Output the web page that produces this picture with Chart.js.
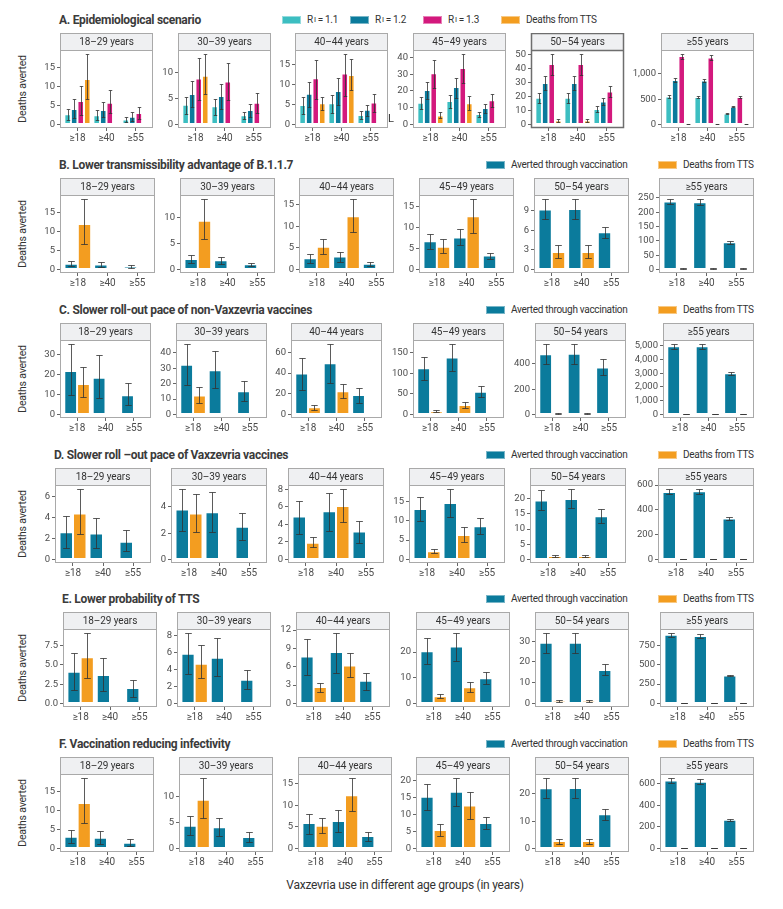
<!DOCTYPE html>
<html lang="en">
<head>
<meta charset="UTF-8">
<title>Deaths averted by Vaxzevria use, by scenario</title>
<script src="https://cdn.jsdelivr.net/npm/chart.js"></script>
<style>
  body { margin: 0; width: 783px; height: 909px; position: relative; overflow: hidden; background: #fff;
         font-family: "Roboto", sans-serif; color: #333; }
  .title { position: absolute; font-weight: bold; font-size: 12px; letter-spacing: -0.3px; color: #3b3b3b; white-space: nowrap; line-height: 16px; }
  .leg { position: absolute; display: flex; align-items: center; font-size: 10px; letter-spacing: -0.3px; color: #333; white-space: nowrap; line-height: 14px; }
  .leg i { display: inline-block; width: 19px; height: 8px; margin-right: 6px; box-shadow: inset 0 0 0 1px rgba(255,255,255,0.45); }
  .leg sub { font-size: 7.5px; vertical-align: -2px; margin: 0 2px 0 1px; }
  .ylab { position: absolute; font-size: 10.5px; letter-spacing: -0.2px; color: #333; white-space: nowrap; transform: translate(-50%, -50%) rotate(-90deg); }
  .xlab { position: absolute; font-size: 12px; letter-spacing: -0.25px; color: #333; white-space: nowrap; transform: translateX(-50%); }
  canvas { position: absolute; }
</style>
</head>
<body>
<script>
// categories
const useGroups = ['≥18', '≥40', '≥55'];
const ageGroups = ['18–29 years', '30–39 years', '40–44 years', '45–49 years', '50–54 years', '≥55 years'];

// each bar: [value, lower, upper]; one entry per age-group panel, three use groups each

// A. Epidemiological scenario
const aTicks = [[0, 5, 10, 15], [0, 5, 10], [0, 5, 10, 15], [0, 10, 20, 30, 40], [0, 10, 20, 30, 40, 50], [0, 500, 1000]];
const aR11 = [
  [[2.7, 1.2, 4.2], [2.4, 1.3, 3.7], [1.3, 0.7, 2.0]],
  [[3.8, 2.0, 5.3], [3.5, 1.8, 4.9], [1.8, 1.0, 2.5]],
  [[4.9, 2.5, 6.8], [5.3, 2.8, 7.3], [2.4, 1.4, 3.3]],
  [[13, 9, 16.3], [14, 9.8, 17.5], [6.2, 4.4, 7.7]],
  [[19, 15.5, 22.5], [19, 15.5, 22.5], [11, 9, 13]],
  [[550, 525, 575], [540, 515, 565], [215, 205, 225]]
];
const aR12 = [
  [[4.1, 1.8, 6.6], [3.8, 2.0, 6.0], [2.0, 1.0, 3.2]],
  [[5.9, 3.3, 8.4], [5.5, 3.0, 7.8], [2.8, 1.5, 4.0]],
  [[7.7, 4.3, 10.6], [8.4, 4.8, 11.7], [3.7, 2.1, 5.0]],
  [[20.5, 15, 25.5], [22.3, 16, 27.5], [9.8, 7, 12]],
  [[29.5, 24.5, 34.5], [29.5, 24.5, 34.5], [16.3, 13.5, 19]],
  [[880, 840, 920], [870, 840, 900], [350, 340, 360]]
];
const aR13 = [
  [[6.2, 2.5, 10.1], [5.7, 3.0, 9.0], [3.0, 1.5, 4.7]],
  [[8.9, 4.8, 12.9], [8.3, 4.8, 11.8], [4.2, 2.2, 6.0]],
  [[11.6, 6.5, 16.3], [12.8, 7.2, 17.8], [5.5, 3.1, 7.6]],
  [[30.5, 22, 38.5], [33.7, 25, 42.3], [14.5, 10.5, 18]],
  [[43, 35.5, 50.5], [43, 35.5, 50.5], [23.5, 19.5, 27.5]],
  [[1350, 1300, 1400], [1320, 1270, 1370], [540, 515, 565]]
];
const aTts = [
  [[12, 6.7, 18.7], null, null],
  [[9.4, 5.9, 13.7], null, null],
  [[5.3, 3.6, 7.0], [12.4, 8.6, 16.5], null],
  [[5.4, 3.7, 7.2], [12.7, 8.7, 16.8], null],
  [[2.8, 1.8, 3.7], [2.8, 1.8, 3.7], null],
  [[4.5, 3, 6], [4.5, 3, 6], [4.5, 3, 6]]
];

// B. Lower transmissibility advantage of B.1.1.7
const bTicks = [[0, 5, 10, 15], [0, 5, 10], [0, 5, 10, 15], [0, 5, 10, 15], [0, 3, 6, 9], [0, 50, 100, 150, 200, 250]];
const bVacc = [
  [[1.5, 0.8, 2.2], [1.3, 0.7, 2.0], [0.8, 0.4, 1.1]],
  [[2.0, 1.2, 2.8], [1.8, 1.1, 2.5], [1.0, 0.6, 1.3]],
  [[2.6, 1.6, 3.5], [3.0, 1.8, 4.0], [1.3, 0.8, 1.7]],
  [[6.7, 4.9, 8.3], [7.6, 5.8, 9.5], [3.3, 2.5, 4.0]],
  [[9.2, 7.7, 10.8], [9.3, 7.7, 10.9], [5.7, 4.9, 6.6]],
  [[238, 228, 248], [235, 225, 245], [95, 90, 100]]
];
const bTts = [
  [[12, 6.7, 18.7], null, null],
  [[9.4, 5.9, 13.7], null, null],
  [[5.3, 3.6, 7.0], [12.4, 8.6, 16.5], null],
  [[5.4, 3.8, 7.1], [12.6, 8.7, 16.8], null],
  [[2.7, 1.7, 3.7], [2.7, 1.7, 3.7], null],
  [[4.5, 3, 6], [4.5, 3, 6], [4.5, 3, 6]]
];

// C. Slower roll-out pace of non-Vaxzevria vaccines
const cTicks = [[0, 10, 20, 30], [0, 10, 20, 30, 40], [0, 20, 40, 60], [0, 50, 100, 150], [0, 200, 400], [0, 1000, 2000, 3000, 4000, 5000]];
const cVacc = [
  [[21.8, 9.5, 35.5], [18.4, 8, 30], [9.6, 4.5, 15.5]],
  [[32.3, 19.2, 46], [28.6, 17, 41.2], [15, 8.7, 21.5]],
  [[39.5, 23.5, 54.5], [49.5, 30, 68.5], [18.7, 11, 25.8]],
  [[112, 84, 140], [138, 105, 172], [55, 42, 69]],
  [[478, 400, 557], [482, 403, 562], [372, 310, 436]],
  [[4950, 4750, 5150], [4950, 4750, 5150], [3000, 2900, 3100]]
];
const cTts = [
  [[15.3, 8.7, 23.8], null, null],
  [[12.3, 7.5, 17.5], null, null],
  [[7, 4.7, 9.3], [22.3, 15.5, 29], null],
  [[8, 5, 11], [23, 16, 29], null],
  [[10, 7, 13], [10, 7, 13], null],
  [[30, 20, 40], [30, 20, 40], [30, 20, 40]]
];

// D. Slower roll-out pace of Vaxzevria vaccines
const dTicks = [[0, 2, 4, 6], [0, 2, 4], [0, 2, 4, 6, 8], [0, 5, 10, 15], [0, 5, 10, 15, 20], [0, 200, 400, 600]];
const dVacc = [
  [[2.6, 1.1, 4.2], [2.5, 1.1, 4.0], [1.7, 0.8, 2.8]],
  [[3.8, 2.2, 5.4], [3.6, 2.1, 5.1], [2.5, 1.5, 3.5]],
  [[4.9, 2.9, 6.7], [5.5, 3.3, 7.6], [3.2, 1.9, 4.4]],
  [[13, 9.8, 16.2], [14.6, 11, 18.3], [8.6, 6.6, 10.7]],
  [[19.4, 16.4, 22.7], [19.9, 16.8, 23.3], [14.2, 12, 16.5]],
  [[545, 525, 565], [550, 530, 572], [330, 318, 342]]
];
const dTts = [
  [[4.4, 2.4, 6.8], null, null],
  [[3.5, 2.1, 5.0], null, null],
  [[1.9, 1.4, 2.6], [6.1, 4.3, 8.1], null],
  [[2.1, 1.6, 2.7], [6.3, 4.4, 8.3], null],
  [[1.1, 0.8, 1.4], [1.1, 0.8, 1.4], null],
  [[5, 3, 7], [5, 3, 7], [5, 3, 7]]
];

// E. Lower probability of TTS
const eTicks = [[0, 2.5, 5, 7.5], [0, 2, 4, 6, 8], [0, 3, 6, 9, 12], [0, 10, 20], [0, 10, 20, 30], [0, 250, 500, 750]];
const eVacc = [
  [[4.1, 1.8, 6.6], [3.7, 1.6, 5.9], [2.0, 0.9, 3.1]],
  [[5.9, 3.5, 8.4], [5.4, 3.2, 7.8], [2.8, 1.7, 4.0]],
  [[7.7, 4.6, 10.6], [8.4, 5.0, 11.6], [3.7, 2.2, 5.0]],
  [[20.3, 15.3, 25.3], [22.2, 16.7, 27.6], [9.8, 7.5, 12.1]],
  [[29.3, 24.4, 34.2], [29.3, 24.4, 34.2], [16.1, 13.5, 18.8]],
  [[885, 855, 915], [870, 840, 900], [360, 348, 372]]
];
const eTts = [
  [[6.0, 3.3, 9.2], null, null],
  [[4.7, 3.0, 6.9], null, null],
  [[2.7, 1.9, 3.4], [6.2, 4.3, 8.3], null],
  [[2.8, 2.0, 3.5], [6.3, 4.4, 8.3], null],
  [[1.3, 0.9, 1.7], [1.3, 0.9, 1.7], null],
  [[5, 3, 7], [5, 3, 7], [5, 3, 7]]
];

// F. Vaccination reducing infectivity
const fTicks = [[0, 5, 10, 15], [0, 5, 10], [0, 5, 10, 15], [0, 5, 10, 15, 20], [0, 10, 20], [0, 200, 400, 600]];
const fVacc = [
  [[3.1, 1.4, 4.9], [2.8, 1.3, 4.5], [1.5, 0.7, 2.4]],
  [[4.4, 2.6, 6.3], [4.1, 2.4, 5.8], [2.2, 1.3, 3.1]],
  [[5.9, 3.4, 8.1], [6.4, 3.8, 8.9], [2.9, 1.7, 3.9]],
  [[15.2, 11.4, 19.0], [16.6, 12.6, 20.8], [7.5, 5.7, 9.3]],
  [[22.1, 18.5, 25.8], [22.2, 18.5, 26], [12.5, 10.5, 14.5]],
  [[632, 607, 660], [622, 597, 648], [268, 258, 278]]
];
const fTts = [
  [[12, 6.7, 18.7], null, null],
  [[9.4, 5.9, 13.7], null, null],
  [[5.3, 3.6, 7.0], [12.4, 8.6, 16.5], null],
  [[5.4, 3.8, 7.1], [12.6, 8.7, 16.7], null],
  [[2.7, 1.8, 3.6], [2.7, 1.8, 3.6], null],
  [[4.5, 3, 6], [4.5, 3, 6], [4.5, 3, 6]]
];

const FONT = '"Roboto", sans-serif';
const TEAL = '#3cbec1', BLUE = '#0b7b9c', MAGENTA = '#d3197d', ORANGE = '#f39d20';
const TICK_COL = '#4d4d4d', TICK_SIZE = 9.5;

const vaccLegend = [
  { html: 'Averted through vaccination', color: BLUE, x: 486 },
  { html: 'Deaths from TTS', color: ORANGE, x: 658 }
];
const rows = [
  { title: 'A. Epidemiological scenario', ticks: aTicks,
    series: [{ data: aR11, color: TEAL }, { data: aR12, color: BLUE }, { data: aR13, color: MAGENTA }, { data: aTts, color: ORANGE }],
    legend: [
      { html: 'R<sub>I</sub> = 1.1', color: TEAL, x: 282 },
      { html: 'R<sub>I</sub> = 1.2', color: BLUE, x: 350 },
      { html: 'R<sub>I</sub> = 1.3', color: MAGENTA, x: 423 },
      { html: 'Deaths from TTS', color: ORANGE, x: 501 }
    ] },
  { title: 'B. Lower transmissibility advantage of B.1.1.7', ticks: bTicks,
    series: [{ data: bVacc, color: BLUE }, { data: bTts, color: ORANGE }], legend: vaccLegend },
  { title: 'C. Slower roll-out pace of non-Vaxzevria vaccines', ticks: cTicks,
    series: [{ data: cVacc, color: BLUE }, { data: cTts, color: ORANGE }], legend: vaccLegend },
  { title: 'D. Slower roll –out pace of Vaxzevria vaccines', ticks: dTicks,
    series: [{ data: dVacc, color: BLUE }, { data: dTts, color: ORANGE }], legend: vaccLegend },
  { title: 'E. Lower probability of TTS', ticks: eTicks,
    series: [{ data: eVacc, color: BLUE }, { data: eTts, color: ORANGE }], legend: vaccLegend },
  { title: 'F. Vaccination reducing infectivity', ticks: fTicks,
    series: [{ data: fVacc, color: BLUE }, { data: fTts, color: ORANGE }], legend: vaccLegend }
];

// layout
const STRIP_H = 17, PLOT_H = 78, XAX_H = 16, GAP = 8, X0 = 43, X1 = 754;
const stripTops = [33, 178, 323, 468, 612, 757];

Chart.defaults.font.family = FONT;

function fmtTick(v, ticks) {
  const dec = ticks.some(t => !Number.isInteger(t));
  return dec ? v.toFixed(1) : v.toLocaleString('en-US');
}

const measureCtx = document.createElement('canvas').getContext('2d');
measureCtx.font = TICK_SIZE + 'px ' + FONT;

// error bars drawn from the y scale
const errorBars = {
  id: 'errorBars',
  afterDatasetsDraw(chart) {
    const ctx = chart.ctx, ys = chart.scales.y;
    ctx.save();
    ctx.strokeStyle = 'rgba(50,50,50,0.8)';
    ctx.lineWidth = 1;
    chart.data.datasets.forEach((ds, i) => {
      chart.getDatasetMeta(i).data.forEach((bar, j) => {
        if (ds.lo[j] == null) return;
        const x = Math.round(bar.x) + 0.5;
        const y1 = Math.round(ys.getPixelForValue(ds.lo[j])) + 0.5;
        const y2 = Math.round(ys.getPixelForValue(ds.hi[j])) + 0.5;
        const cw = Math.max(3.5, Math.min(7, bar.width * 0.5)) / 2;
        ctx.beginPath();
        ctx.moveTo(x, y1); ctx.lineTo(x, y2);
        ctx.moveTo(x - cw, y1); ctx.lineTo(x + cw, y1);
        ctx.moveTo(x - cw, y2); ctx.lineTo(x + cw, y2);
        ctx.stroke();
      });
    });
    ctx.restore();
  }
};

// facet strip and panel border
const panelFrame = {
  id: 'panelFrame',
  beforeDatasetsDraw(chart, args, opts) {
    const { ctx, chartArea: a } = chart;
    ctx.save();
    ctx.fillStyle = '#eff0f2';
    ctx.fillRect(a.left, a.top - STRIP_H, a.right - a.left, STRIP_H);
    ctx.fillStyle = '#333';
    ctx.font = '10px ' + FONT;
    ctx.letterSpacing = '-0.1px';
    ctx.textAlign = 'center';
    ctx.textBaseline = 'middle';
    ctx.fillText(opts.label, (a.left + a.right) / 2, a.top - STRIP_H / 2 + 0.5);
    ctx.restore();
  },
  afterDraw(chart, args, opts) {
    const { ctx, chartArea: a } = chart;
    ctx.save();
    ctx.strokeStyle = opts.strong ? '#6e6e6e' : '#a9a9a9';
    ctx.lineWidth = opts.strong ? 1.5 : 1;
    ctx.strokeRect(a.left + 0.5, a.top - STRIP_H + 0.5, a.right - a.left - 1, a.bottom - a.top + STRIP_H - 1);
    ctx.beginPath();
    ctx.moveTo(a.left, a.top + 0.5);
    ctx.lineTo(a.right, a.top + 0.5);
    ctx.stroke();
    ctx.restore();
  }
};

function addDiv(cls, html, style) {
  const d = document.createElement('div');
  d.className = cls;
  d.innerHTML = html;
  Object.assign(d.style, style);
  document.body.appendChild(d);
  return d;
}

rows.forEach((row, r) => {
  const top = stripTops[r];
  // axis widths from tick label widths, then equal panel widths
  const axisW = row.ticks.map(tk => Math.ceil(Math.max(...tk.map(v => measureCtx.measureText(fmtTick(v, tk)).width))) + 6);
  const panelW = (X1 - X0 - axisW.reduce((s, w) => s + w, 0) - GAP * 5) / 6;
  let x = X0;
  const lefts = [];
  axisW.forEach(w => { x += w; lefts.push(Math.round(x)); x += panelW + GAP; });

  addDiv('title', row.title, { left: (lefts[0] - 1) + 'px', top: (top - 21) + 'px' });
  row.legend.forEach(it => {
    addDiv('leg', '<i style="background:' + it.color + '"></i>' + it.html, { left: it.x + 'px', top: (top - 20) + 'px' });
  });
  addDiv('ylab', 'Deaths averted', { left: '22px', top: (top + STRIP_H + PLOT_H / 2) + 'px' });

  for (let p = 0; p < 6; p++) {
    const ticks = row.ticks[p];
    let maxHi = 0;
    row.series.forEach(s => s.data[p].forEach(d => { if (d) maxHi = Math.max(maxHi, d[2]); }));
    const aw = axisW[p];
    const canvas = document.createElement('canvas');
    canvas.width = aw + Math.round(panelW) + 3;
    canvas.height = STRIP_H + PLOT_H + XAX_H;
    canvas.style.left = (lefts[p] - aw) + 'px';
    canvas.style.top = top + 'px';
    document.body.appendChild(canvas);

    new Chart(canvas, {
      type: 'bar',
      data: {
        datasets: row.series.map(s => ({
          data: s.data[p].map((d, i) => ({ x: i + 1, y: d ? d[0] : null })),
          lo: s.data[p].map(d => d ? d[1] : null),
          hi: s.data[p].map(d => d ? d[2] : null),
          backgroundColor: s.color,
          borderColor: 'rgba(255,255,255,0.45)',
          borderWidth: 1,
          borderSkipped: false,
          categoryPercentage: 0.9,
          barPercentage: 1,
          minBarLength: 1.5
        }))
      },
      options: {
        responsive: false,
        animation: false,
        events: [],
        layout: { padding: { top: STRIP_H, right: 3, left: 0, bottom: 0 } },
        plugins: {
          legend: { display: false },
          tooltip: { enabled: false },
          panelFrame: { label: ageGroups[p], strong: r === 0 && p === 4 }
        },
        scales: {
          x: {
            type: 'linear', min: 0.4, max: 3.6, offset: false,
            afterBuildTicks: s => { s.ticks = [1, 2, 3].map(v => ({ value: v })); },
            afterFit: s => { s.height = XAX_H; },
            ticks: { callback: v => useGroups[v - 1], color: TICK_COL, font: { size: 10 }, padding: 1, maxRotation: 0, autoSkip: false },
            grid: { offset: false, drawOnChartArea: false, drawTicks: true, tickLength: 3, color: '#666' },
            border: { display: false }
          },
          y: {
            min: -0.05 * maxHi, max: 1.05 * maxHi,
            afterBuildTicks: s => { s.ticks = ticks.map(v => ({ value: v })); },
            afterFit: s => { s.width = aw; },
            ticks: { callback: v => fmtTick(v, ticks), color: TICK_COL, font: { size: TICK_SIZE }, padding: 2, autoSkip: false },
            grid: { drawOnChartArea: false, drawTicks: true, tickLength: 3, color: '#666' },
            border: { display: false }
          }
        }
      },
      plugins: [errorBars, panelFrame]
    });
  }
});

addDiv('xlab', 'Vaxzevria use in different age groups (in years)', { left: '405px', top: '878px' });
addDiv('ylab', 'L', { left: '388px', top: '112px', transform: 'none', fontSize: '11px' });
</script>
</body>
</html>
